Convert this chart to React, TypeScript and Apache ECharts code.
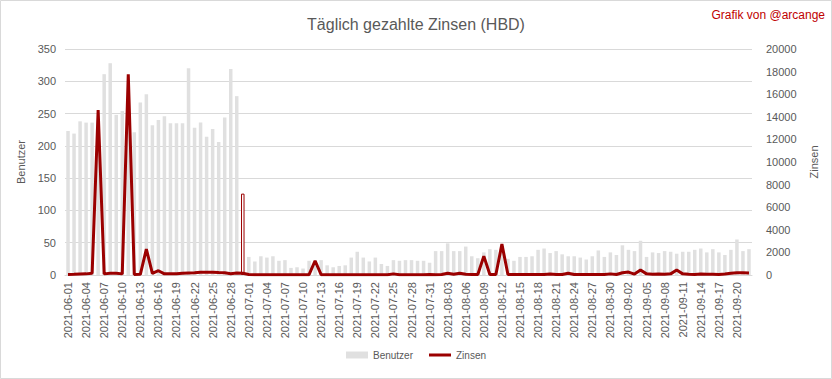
import React, { useEffect, useRef } from "react";
import * as echarts from "echarts";

const startDate = "2021-06-01";
const dayCount = 114;
function buildDates(start: string, n: number): string[] {
  const out: string[] = [];
  const d = new Date(start + "T00:00:00Z");
  for (let i = 0; i < n; i++) {
    const c = new Date(d.getTime() + i * 86400000);
    out.push(c.toISOString().slice(0, 10));
  }
  return out;
}
const dates = buildDates(startDate, dayCount);

const benutzer = [
  223, 219, 238, 236, 236, 240, 311, 328, 248, 254, 255, 221, 267, 280, 232, 240, 246, 235, 235, 235,
  320, 228, 236, 214, 226, 206, 244, 319, 277, 126,
  28, 21, 29, 27, 29, 22, 23, 11, 12, 10, 22, 20, 23, 15, 12, 14, 15, 27, 36, 27,
  21, 27, 17, 14, 23, 22, 23, 23, 22, 22, 19, 37, 37, 49, 37, 37, 44, 29, 26, 35,
  40, 39, 38, 25, 22, 28, 28, 29, 39, 41, 34, 37, 32, 29, 29, 27, 24, 29, 38, 28,
  35, 31, 46, 39, 37, 53, 28, 35, 34, 37, 36, 33, 36, 36, 39, 41, 35, 40, 35, 31,
  39, 55, 37, 40,
];

const zinsen = [
  50, 60, 80, 100, 150, 14600, 100, 150, 150, 100, 17770, 50, 60, 2290, 150, 380, 100, 100, 120, 150,
  180, 200, 250, 250, 250, 220, 200, 120, 180, 150,
  50, 30, 30, 30, 30, 30, 30, 30, 30, 30, 30, 1260, 30, 30, 30, 30, 30, 30, 30, 30,
  30, 30, 30, 30, 100, 30, 30, 30, 30, 30, 40, 30, 40, 150, 60, 150, 60, 50, 40, 1670,
  40, 40, 2730, 40, 40, 40, 40, 40, 40, 40, 80, 40, 40, 150, 40, 40, 40, 40, 40, 40,
  100, 40, 200, 260, 80, 440, 100, 60, 80, 60, 100, 440, 100, 60, 50, 80, 60, 60, 50, 80,
  150, 200, 200, 180,
];

const highlightedIndex = 29;

const leftTicks = { min: 0, max: 350, interval: 50 };
const rightTicks = { min: 0, max: 20000, interval: 2000 };

const TEXT = "#595959";
const GRID = "#d9d9d9";
const RED = "#9b0000";
const FONT = "Liberation Sans";

export default function App() {
  const ref = useRef<HTMLDivElement>(null);
  useEffect(() => {
    if (!ref.current) return;
    const chart = echarts.init(ref.current, undefined, { renderer: "svg" });
    chart.setOption({
      animation: false,
      backgroundColor: "#ffffff",
      textStyle: { fontFamily: FONT },
      title: {
        text: "Täglich gezahlte Zinsen (HBD)",
        left: "center",
        top: 11,
        textStyle: { fontFamily: FONT, fontSize: 16, fontWeight: "normal", color: TEXT },
      },
      graphic: [
        {
          type: "rect",
          shape: { x: 0.5, y: 0.5, width: 831, height: 378 },
          style: { fill: "none", stroke: GRID, lineWidth: 1 },
          silent: true,
        },
        {
          type: "text",
          right: 7,
          top: 9,
          style: { text: "Grafik von @arcange", fill: "#c00000", font: `12px "${FONT}"` },
        },
      ],
      legend: {
        bottom: 14,
        left: "center",
        itemWidth: 22,
        itemHeight: 7,
        itemGap: 16,
        textStyle: { color: TEXT, fontSize: 10, fontFamily: FONT },
        data: [
          { name: "Benutzer", icon: "rect" },
          { name: "Zinsen", icon: "path://M0,0 L22,0 L22,3 L0,3 Z" },
        ],
      },
      grid: { left: 65, right: 80, top: 49, bottom: 104 },
      xAxis: {
        type: "category",
        data: dates,
        boundaryGap: true,
        axisLine: { lineStyle: { color: GRID } },
        axisTick: { show: false },
        axisLabel: {
          interval: 2,
          rotate: 90,
          color: TEXT,
          fontSize: 11,
          fontFamily: FONT,
          margin: 7,
        },
      },
      yAxis: [
        {
          type: "value",
          ...leftTicks,
          name: "Benutzer",
          nameLocation: "middle",
          nameGap: 38,
          nameTextStyle: { color: TEXT, fontSize: 11, fontFamily: FONT },
          axisLine: { show: false },
          axisTick: { show: false },
          axisLabel: { color: TEXT, fontSize: 11, fontFamily: FONT, margin: 9 },
          splitLine: { lineStyle: { color: GRID } },
        },
        {
          type: "value",
          ...rightTicks,
          position: "right",
          name: "Zinsen",
          nameLocation: "middle",
          nameGap: 56,
          nameTextStyle: { color: TEXT, fontSize: 11, fontFamily: FONT },
          axisLine: { show: false },
          axisTick: { show: false },
          axisLabel: {
            color: TEXT,
            fontSize: 11,
            fontFamily: FONT,
            margin: 14,
            formatter: (v: number) => String(v),
          },
          splitLine: { show: false },
        },
      ],
      series: [
        {
          name: "Benutzer",
          type: "bar",
          yAxisIndex: 0,
          barWidth: 3.5,
          itemStyle: { color: "#e0e0e0" },
          data: benutzer.map((v, i) =>
            i === highlightedIndex
              ? { value: v, itemStyle: { color: "#ffffff", borderColor: RED, borderWidth: 1 } }
              : v
          ),
        },
        {
          name: "Zinsen",
          type: "line",
          yAxisIndex: 1,
          symbol: "none",
          lineStyle: { color: RED, width: 3 },
          itemStyle: { color: RED },
          data: zinsen,
        },
      ],
    });
    return () => chart.dispose();
  }, []);
  return (
    <div
      ref={ref}
      style={{ position: "fixed", left: 0, top: 0, width: 832, height: 379 }}
    />
  );
}
